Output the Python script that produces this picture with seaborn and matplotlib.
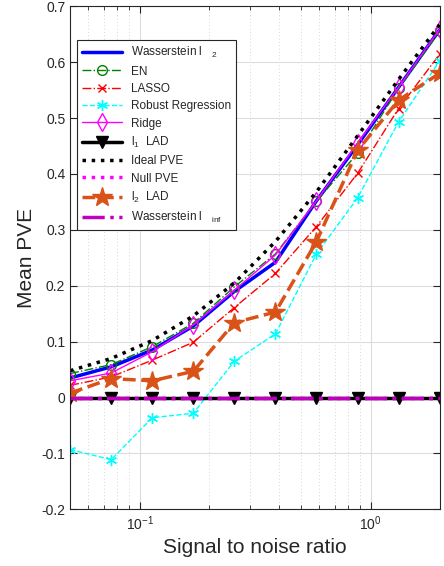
import numpy as np
import pandas as pd
import matplotlib
matplotlib.use("Agg")
import matplotlib.pyplot as plt
import matplotlib.ticker as mticker
import seaborn as sns

# --- data ---
snr = [0.05, 0.0753, 0.1134, 0.1708, 0.2572, 0.3873, 0.5833, 0.8785, 1.323, 1.992]

wass_l2 = [0.035, 0.055, 0.085, 0.128, 0.190, 0.242, 0.352, 0.452, 0.555, 0.658]
en = [0.043, 0.059, 0.091, 0.133, 0.198, 0.257, 0.351, 0.437, 0.553, 0.655]
lasso = [0.022, 0.037, 0.067, 0.099, 0.161, 0.222, 0.306, 0.401, 0.517, 0.614]
robust = [-0.093, -0.111, -0.036, -0.028, 0.065, 0.114, 0.257, 0.357, 0.493, 0.602]
ridge = [0.030, 0.044, 0.082, 0.130, 0.192, 0.255, 0.352, 0.455, 0.555, 0.659]
l1_lad = [0, 0, 0, 0, 0, 0, 0, 0, 0, 0]
ideal = [0.048, 0.070, 0.102, 0.146, 0.205, 0.279, 0.368, 0.468, 0.569, 0.667]
null_pve = [0, 0, 0, 0, 0, 0, 0, 0, 0, 0]
l2_lad = [0.008, 0.034, 0.030, 0.047, 0.134, 0.153, 0.279, 0.442, 0.532, 0.580]
wass_inf = [0, 0, 0, 0, 0, 0, 0, 0, 0, 0]

labels = ["Wasserstein l   $_{2}$", "EN", "LASSO", "Robust Regression", "Ridge",
          "l$_{1}$  LAD", "Ideal PVE", "Null PVE", "l$_{2}$  LAD",
          "Wasserstein l   $_{\\mathrm{inf}}$"]

sns.set_style("ticks")
plt.rcParams["font.family"] = ["Liberation Sans", "DejaVu Sans"]
plt.rcParams["mathtext.fontset"] = "custom"
plt.rcParams["mathtext.rm"] = "Liberation Sans"
plt.rcParams["mathtext.it"] = "Liberation Sans"
plt.rcParams["axes.unicode_minus"] = False

fig = plt.figure(figsize=(4.44, 5.66), dpi=100)
ax = fig.add_axes([0.158, 0.100, 0.833, 0.889])

# style per series: (values, color, linestyle, lw, marker, ms, filled)
series = [
    (wass_l2, "#0000FF", "-", 2.5, None, 0, False),
    (en, "#008000", "-.", 1.0, "o", 7, False),
    (lasso, "#FF0000", "-.", 1.0, "x", 6, False),
    (robust, "#00FFFF", "--", 1.0, (6, 2, 0), 8, False),
    (ridge, "#FF00FF", "-", 1.0, "d", 9, False),
    (l1_lad, "#000000", "-", 2.5, "v", 9, True),
    (ideal, "#000000", ":", 2.5, None, 0, False),
    (null_pve, "#FF00FF", ":", 2.5, None, 0, False),
    (l2_lad, "#D95319", "--", 2.5, "*", 15, True),
    (wass_inf, "#BF00BF", "-.", 2.5, None, 0, False),
]

for (vals, col, ls, lw, mk, ms, filled), lab in zip(series, labels):
    kw = dict(color=col, linestyle=ls, linewidth=lw, label=lab)
    if mk is not None:
        kw.update(marker=mk, markersize=ms, markeredgecolor=col,
                  markerfacecolor=col if filled else "none",
                  markeredgewidth=1.0)
    sns.lineplot(x=snr, y=vals, ax=ax, sort=False, **kw)

ax.set_xscale("log")
ax.set_xlim(0.05, 2)
ax.set_ylim(-0.2, 0.7)
ax.set_yticks([-0.2, -0.1, 0, 0.1, 0.2, 0.3, 0.4, 0.5, 0.6, 0.7])
ax.yaxis.set_major_formatter(mticker.FuncFormatter(lambda v, p: f"{v:g}"))
ax.xaxis.set_major_locator(mticker.LogLocator(base=10))
ax.xaxis.set_minor_locator(mticker.LogLocator(base=10, subs=np.arange(2, 10)))
ax.xaxis.set_minor_formatter(mticker.NullFormatter())

ax.grid(True, which="major", color="#DCDCDC", linewidth=0.8, linestyle="-")
ax.grid(True, which="minor", axis="x", color="#C8C8C8", linewidth=0.6, linestyle=(0, (1, 3)))
ax.set_axisbelow(True)

ax.tick_params(which="both", direction="in", top=True, right=True, colors="#262626",
               labelsize=10)
ax.tick_params(which="major", length=5)
ax.tick_params(which="minor", length=3)
for s in ax.spines.values():
    s.set_color("#262626")
    s.set_linewidth(0.8)

ax.set_xlabel("Signal to noise ratio", fontsize=15, color="#262626")
ax.set_ylabel("Mean PVE", fontsize=15, color="#262626")

leg = ax.legend(loc="upper left", bbox_to_anchor=(0.019, 0.932), borderaxespad=0,
                fontsize=8.5, handlelength=3.4, labelspacing=0.45, fancybox=False,
                edgecolor="#262626", framealpha=1, numpoints=1)
leg.get_frame().set_linewidth(0.8)

fig.savefig("out.png", dpi=100)
